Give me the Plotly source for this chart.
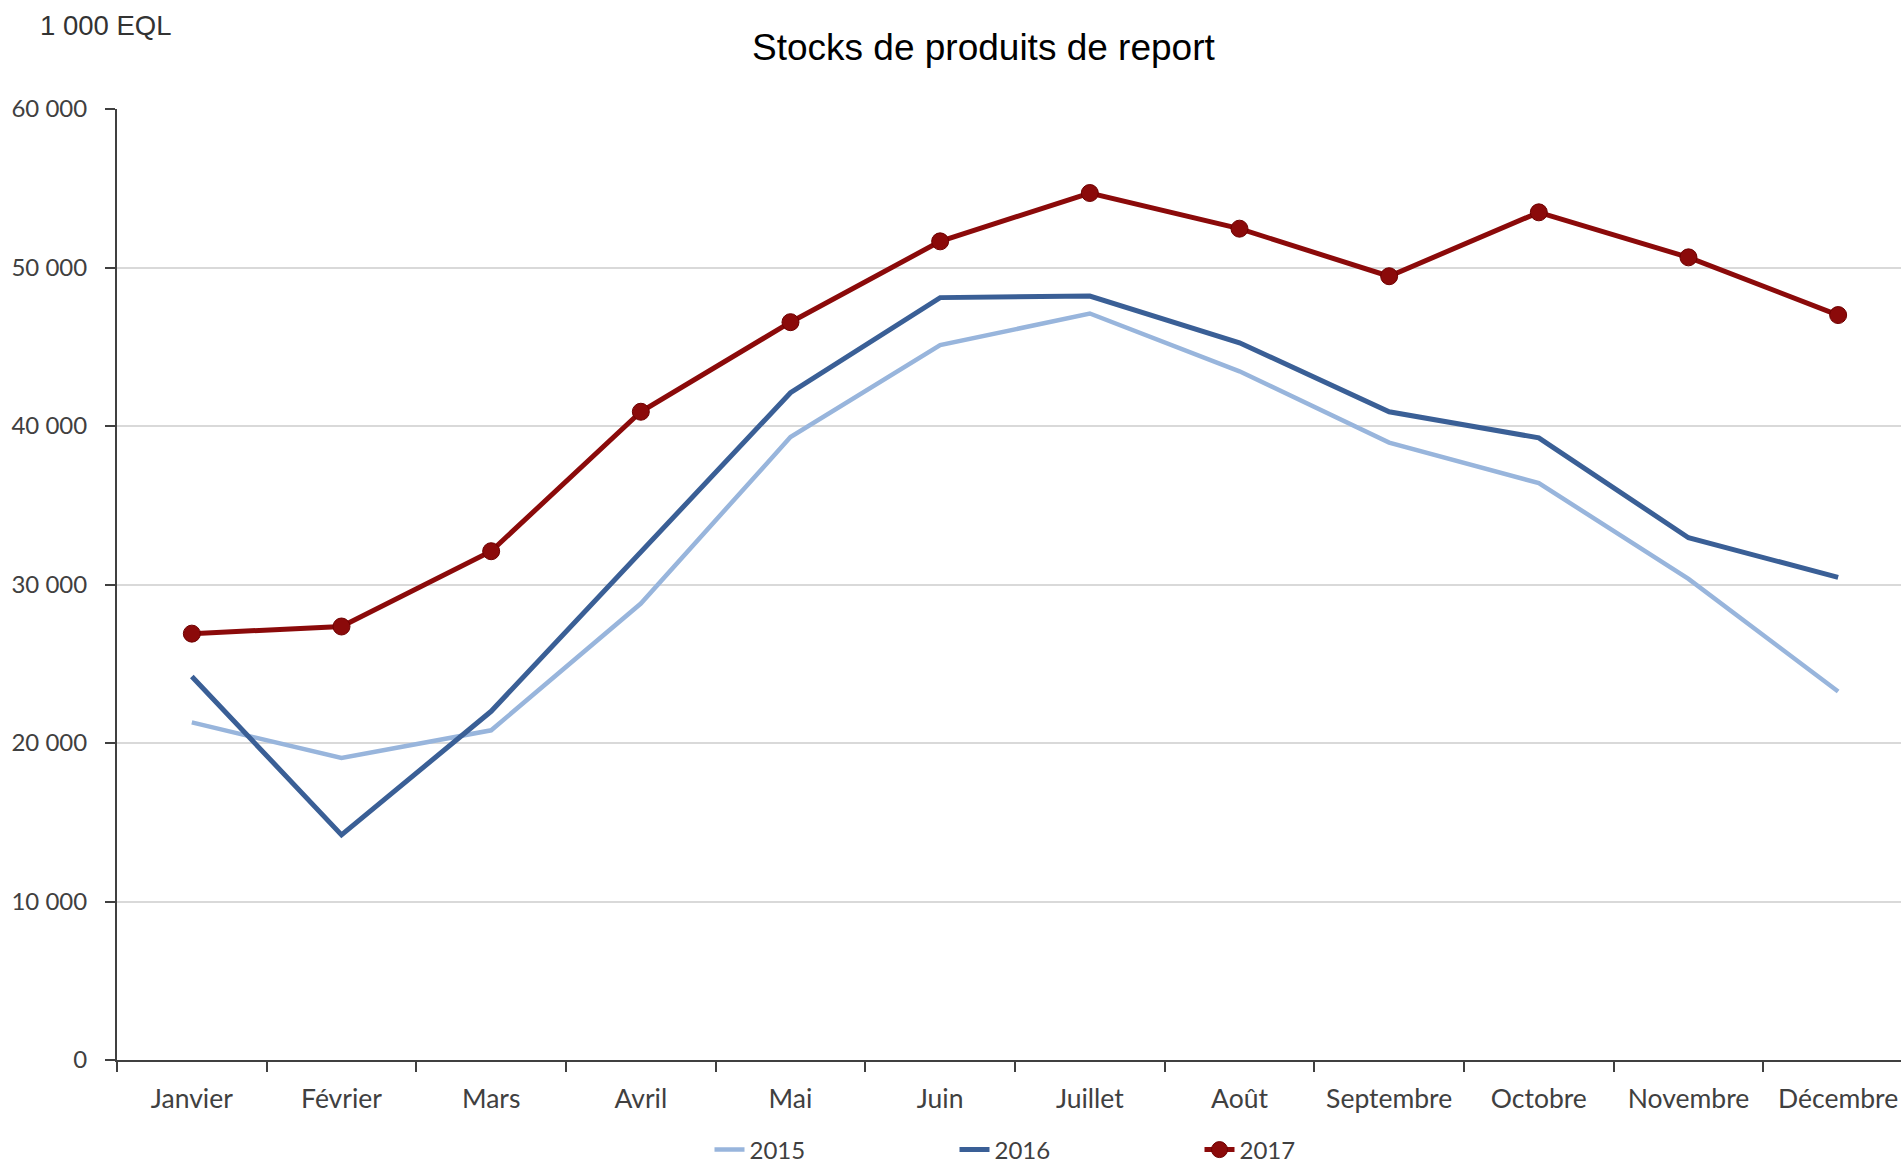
import plotly.graph_objects as go

months = ["Janvier", "Février", "Mars", "Avril", "Mai", "Juin", "Juillet",
          "Août", "Septembre", "Octobre", "Novembre", "Décembre"]
s2015 = [21300, 19050, 20800, 28800, 39300, 45100, 47100, 43450, 38950, 36400, 30350, 23250]
s2016 = [24200, 14200, 22000, 32000, 42100, 48100, 48200, 45250, 40900, 39250, 32950, 30450]
s2017 = [26900, 27350, 32100, 40900, 46550, 51650, 54700, 52450, 49450, 53480, 50640, 47000]
y_ticks = [0, 10000, 20000, 30000, 40000, 50000, 60000]

FAM = "Lato, Open Sans, sans-serif"
XFONT = dict(family=FAM, size=26.5, color="#404040")
YFONT = dict(family=FAM, size=24, color="#404040")
LFONT = dict(family=FAM, size=24, color="#404040")

fig = go.Figure()
fig.add_trace(go.Scatter(x=months, y=s2015, name="2015", mode="lines",
                         line=dict(color="#98B5DC", width=4.5)))
fig.add_trace(go.Scatter(x=months, y=s2016, name="2016", mode="lines",
                         line=dict(color="#3A5F96", width=5)))
fig.add_trace(go.Scatter(x=months, y=s2017, name="2017", mode="lines+markers",
                         line=dict(color="#8B0A0A", width=5),
                         marker=dict(size=17, color="#8B0A0A",
                                     line=dict(color="#6E0000", width=1))))

fig.update_layout(
    width=1901, height=1172, autosize=False,
    margin=dict(l=117, r=0, t=109, b=112),
    paper_bgcolor="white", plot_bgcolor="white",
    separators=", ",
    showlegend=True,
    legend=dict(orientation="h", xref="container", yref="container",
                x=1077 / 1901, xanchor="center", y=1 - 1150 / 1172, yanchor="middle",
                font=LFONT, entrywidth=200, entrywidthmode="pixels",
                itemwidth=30, bgcolor="rgba(0,0,0,0)"),
    xaxis=dict(type="category", categoryorder="array", categoryarray=months,
               range=[-0.5, 11.42], showline=True, linecolor="#404040", linewidth=2,
               ticks="outside", tickson="boundaries", ticklen=10, tickwidth=2,
               tickcolor="#404040", showgrid=False, tickfont=XFONT,
               ticklabelstandoff=14, fixedrange=True),
    yaxis=dict(range=[0, 60000], tickvals=y_ticks, tickformat=",d",
               showline=True, linecolor="#404040", linewidth=2,
               ticks="outside", ticklen=10, tickwidth=2, tickcolor="#404040",
               showgrid=True, gridcolor="#D9D9D9", gridwidth=2,
               zeroline=False, tickfont=YFONT, ticklabelstandoff=13,
               fixedrange=True),
    annotations=[
        dict(text="Stocks de produits de report", xref="paper", yref="paper",
             x=(983 - 117) / (1901 - 117), y=1 + (109 - 48) / (1172 - 109 - 112),
             xanchor="center", yanchor="middle", showarrow=False,
             font=dict(family="Liberation Sans, Arial, sans-serif", size=37, color="#000000")),
        dict(text="1 000 EQL", xref="paper", yref="paper",
             x=(38 - 117) / (1901 - 117), y=1 + (109 - 25) / (1172 - 109 - 112),
             xanchor="left", yanchor="middle", showarrow=False,
             font=dict(family="Liberation Sans, Arial, sans-serif", size=27.5, color="#333333")),
    ],
)

fig.write_html("out.html", config={"displayModeBar": False},
               post_script="document.body.style.margin='0';document.body.style.overflow='hidden';")
